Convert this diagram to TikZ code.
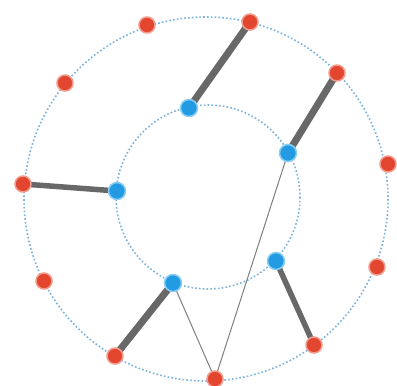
\documentclass[tikz,border=0pt]{standalone}
\usetikzlibrary{backgrounds}
\definecolor{redn}{HTML}{E2462F}
\definecolor{rednh}{HTML}{F29A8C}
\definecolor{bluen}{HTML}{239BE3}
\definecolor{bluenh}{HTML}{8ACDF3}
\definecolor{ringc}{HTML}{79B3DC}
\definecolor{edgec}{HTML}{686868}
\tikzset{
  rednode/.style={circle,fill=redn,draw=rednh,line width=1.5pt,minimum size=16pt,inner sep=0pt},
  bluenode/.style={circle,fill=bluen,draw=bluenh,line width=1.5pt,minimum size=17pt,inner sep=0pt},
  ring/.style={draw=ringc,line width=1.6pt,dash pattern=on 1.6pt off 2.2pt},
  thickedge/.style={draw=edgec,line width=7pt},
  midedge/.style={draw=edgec,line width=5.5pt},
  thinedge/.style={draw=edgec!85,line width=1pt}
}
\begin{document}
\begin{tikzpicture}[x=1pt,y=-1pt]
\useasboundingbox (0,0) rectangle (397,386);
% outer red nodes
\node[rednode] (r1) at (147,25) {};
\node[rednode] (r2) at (250,22) {};
\node[rednode] (r3) at (337,73) {};
\node[rednode] (r4) at (388,164) {};
\node[rednode] (r5) at (377,267) {};
\node[rednode] (r6) at (314,345) {};
\node[rednode] (r7) at (215,379) {};
\node[rednode] (r8) at (115,356) {};
\node[rednode] (r9) at (44,281) {};
\node[rednode] (r10) at (23,184) {};
\node[rednode] (r11) at (65,83) {};
% inner blue nodes
\node[bluenode] (b1) at (189,108) {};
\node[bluenode] (b2) at (288,153) {};
\node[bluenode] (b3) at (276,261) {};
\node[bluenode] (b4) at (173,283) {};
\node[bluenode] (b5) at (117,191) {};
\begin{pgfonlayer}{background}
\fill[white] (0,0) rectangle (397,386);
\draw[ring] (206,199) circle[radius=182];
\draw[ring] (208,197) circle[radius=92];
\draw[thickedge] (r2.center) -- (b1.center);
\draw[thickedge] (r3.center) -- (b2.center);
\draw[thickedge] (r8.center) -- (b4.center);
\draw[midedge] (r10.center) -- (b5.center);
\draw[midedge] (r6.center) -- (b3.center);
\draw[thinedge] (b4.center) -- (r7.center) -- (b2.center);
\end{pgfonlayer}
\end{tikzpicture}
\end{document}
